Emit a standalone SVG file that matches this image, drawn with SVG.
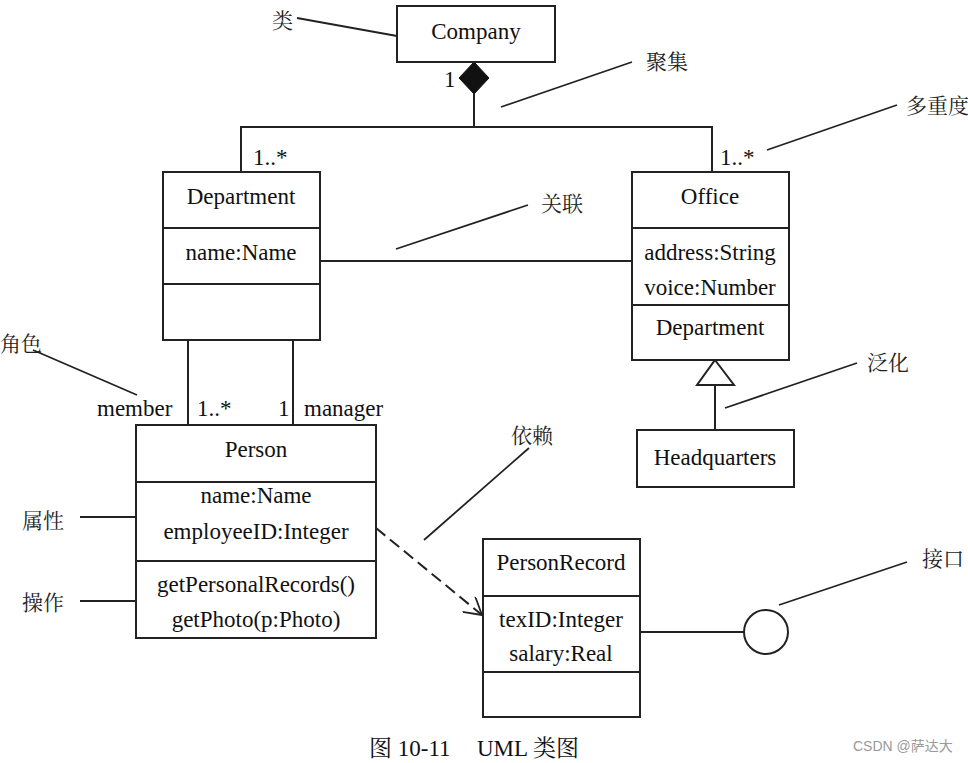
<svg xmlns="http://www.w3.org/2000/svg" width="968" height="763" viewBox="0 0 968 763">
<defs>
<style>
.box{fill:#fff;stroke:#222;stroke-width:2}
.ln{fill:none;stroke:#222;stroke-width:2}
.ld{fill:none;stroke:#222;stroke-width:1.8}
.t{font-family:"Liberation Serif","Times New Roman",serif;font-size:23px;fill:#111;text-anchor:middle}
.tl{font-family:"Liberation Serif","Times New Roman",serif;font-size:23px;fill:#111}
.cn{font-family:"Noto Serif CJK SC","Noto Sans CJK SC",serif;font-size:21px;fill:#222}
</style>
<marker id="openArrow" markerWidth="20" markerHeight="20" refX="18" refY="10" orient="auto" markerUnits="userSpaceOnUse">
<path d="M1,0 L18,10 L1,20" fill="none" stroke="#222" stroke-width="1.8"/>
</marker>
</defs>
<rect width="968" height="763" fill="#fff"/>

<g id="connectors">
<polygon points="474,62 489,78 474,94 459,78" fill="#111" stroke="#111" stroke-width="1"/>
<polyline class="ln" points="474,94 474,127"/>
<polyline class="ln" points="241,172 241,127 712,127 712,172"/>
<line class="ln" x1="320" y1="261" x2="632" y2="261"/>
<line class="ln" x1="188" y1="340" x2="188" y2="425"/>
<line class="ln" x1="293" y1="340" x2="293" y2="425"/>
<polygon points="715,360 734,385 697,385" fill="#fff" stroke="#222" stroke-width="2"/>
<line class="ln" x1="715" y1="385" x2="715" y2="430"/>
<line class="ln" x1="376" y1="528" x2="482" y2="615" stroke-dasharray="12,6" marker-end="url(#openArrow)"/>
<line class="ln" x1="640" y1="632" x2="744" y2="632"/>
</g>

<g id="company">
<rect class="box" x="397" y="6" width="158" height="56"/>
<text class="t" x="476" y="39">Company</text>
</g>
<text class="tl" x="444" y="87">1</text>

<g id="department">
<rect class="box" x="163" y="172" width="157" height="168"/>
<line class="ln" x1="163" y1="228" x2="320" y2="228"/>
<line class="ln" x1="163" y1="284" x2="320" y2="284"/>
<text class="t" x="241" y="204">Department</text>
<text class="t" x="241" y="260">name:Name</text>
</g>
<text class="tl" x="253" y="165">1..*</text>

<g id="office">
<rect class="box" x="632" y="172" width="157" height="188"/>
<line class="ln" x1="632" y1="228" x2="789" y2="228"/>
<line class="ln" x1="632" y1="305" x2="789" y2="305"/>
<text class="t" x="710" y="204">Office</text>
<text class="t" x="710" y="260">address:String</text>
<text class="t" x="710" y="295">voice:Number</text>
<text class="t" x="710" y="335">Department</text>
</g>
<text class="tl" x="720" y="165">1..*</text>

<g id="headquarters">
<rect class="box" x="637" y="430" width="157" height="57"/>
<text class="t" x="715" y="465">Headquarters</text>
</g>

<g id="person">
<rect class="box" x="136" y="425" width="240" height="213"/>
<line class="ln" x1="136" y1="482" x2="376" y2="482"/>
<line class="ln" x1="136" y1="561" x2="376" y2="561"/>
<text class="t" x="256" y="457">Person</text>
<text class="t" x="256" y="503">name:Name</text>
<text class="t" x="256" y="539">employeeID:Integer</text>
<text class="t" x="256" y="592">getPersonalRecords()</text>
<text class="t" x="256" y="627">getPhoto(p:Photo)</text>
</g>
<text class="tl" x="97" y="416">member</text>
<text class="tl" x="197" y="416">1..*</text>
<text class="tl" x="278" y="416">1</text>
<text class="tl" x="304" y="416">manager</text>

<g id="personrecord">
<rect class="box" x="483" y="539" width="157" height="178"/>
<line class="ln" x1="483" y1="596" x2="640" y2="596"/>
<line class="ln" x1="483" y1="672" x2="640" y2="672"/>
<text class="t" x="561" y="570">PersonRecord</text>
<text class="t" x="561" y="627">texID:Integer</text>
<text class="t" x="561" y="661">salary:Real</text>
</g>

<g id="interface">
<circle cx="766" cy="632" r="22" fill="#fff" stroke="#222" stroke-width="2"/>
</g>

<g id="annotations">
<text class="cn" x="272" y="28">类</text>
<line class="ld" x1="297" y1="18" x2="397" y2="36"/>
<text class="cn" x="646" y="69">聚集</text>
<line class="ld" x1="632" y1="62" x2="501" y2="107"/>
<text class="cn" x="906" y="113">多重度</text>
<line class="ld" x1="897" y1="105" x2="767" y2="150"/>
<text class="cn" x="541" y="211">关联</text>
<line class="ld" x1="528" y1="205" x2="396" y2="249"/>
<text class="cn" x="0" y="351">角色</text>
<line class="ld" x1="33" y1="350" x2="137" y2="395"/>
<text class="cn" x="867" y="370">泛化</text>
<line class="ld" x1="857" y1="363" x2="725" y2="408"/>
<text class="cn" x="22" y="528">属性</text>
<line class="ld" x1="80" y1="517" x2="136" y2="517"/>
<text class="cn" x="22" y="610">操作</text>
<line class="ld" x1="80" y1="601" x2="136" y2="601"/>
<text class="cn" x="511" y="443">依赖</text>
<line class="ld" x1="529" y1="448" x2="424" y2="540"/>
<text class="cn" x="922" y="566">接口</text>
<line class="ld" x1="907" y1="562" x2="779" y2="605"/>
</g>

<text x="369" y="756" font-family="'Liberation Serif','Noto Serif CJK SC','Noto Sans CJK SC',serif" font-size="23" fill="#111">图 10-11<tspan x="477">UML 类图</tspan></text>
<text x="853" y="751" font-family="'Liberation Sans','Noto Sans CJK SC',sans-serif" font-size="14" fill="#9a9a9a">CSDN @萨达大</text>
</svg>
